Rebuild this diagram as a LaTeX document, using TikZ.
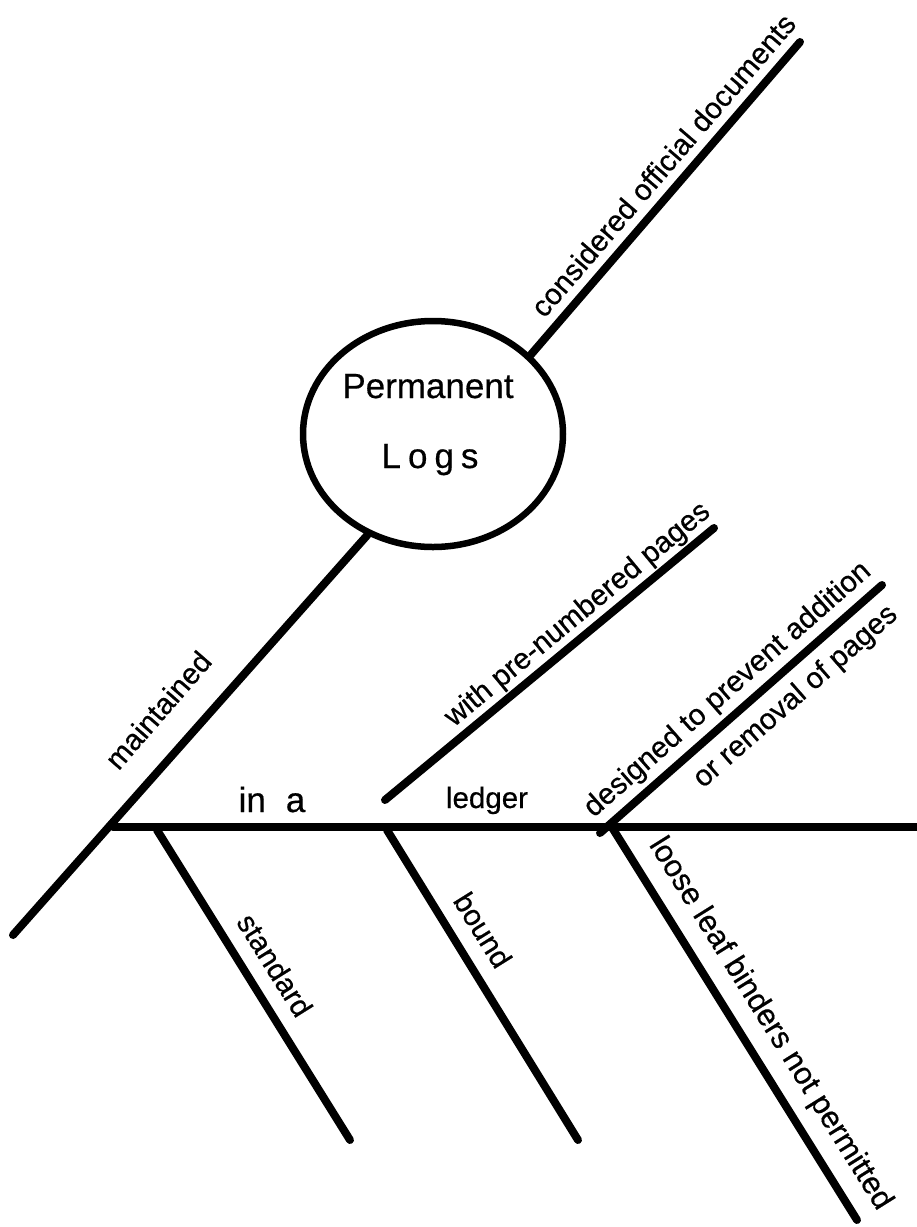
\documentclass[tikz,border=0pt]{standalone}
\usepackage{fontspec}
\setmainfont[BoldFont={Liberation Sans}, BoldFeatures={FakeBold=0.5}]{Liberation Sans}
\usetikzlibrary{shapes.geometric}
\tikzset{
  bone/.style={line width=8pt, line cap=round},
  lbl/.style={font=\fontsize{29.5}{34}\selectfont\bfseries, inner sep=0pt},
  big/.style={font=\fontsize{35}{40}\selectfont\bfseries, inner sep=0pt}
}
\begin{document}
\begin{tikzpicture}[x=1pt,y=-1pt]
\useasboundingbox (0,0) rectangle (917,1227);
\node[draw, ellipse, line width=6.5pt, minimum width=260pt, minimum height=226pt] (logs) at (433,434) {};
\node[big, anchor=base] (perm) at (428,398) {Permanent};
\node[big, anchor=base] (logstxt) at (430,468) {L\hspace{7pt}o\hspace{7pt}g\hspace{7pt}s};
\coordinate (m0) at (13,935);
\coordinate (root) at (113,827);
\coordinate (tail) at (925,827);
\coordinate (c1) at (800,42);
\coordinate (w0) at (385,800);
\coordinate (w1) at (714,528);
\coordinate (d0) at (600,833);
\coordinate (d1) at (882,585);
\coordinate (s0) at (157,830);
\coordinate (s1) at (350,1140);
\coordinate (b0) at (387,830);
\coordinate (b1) at (578,1140);
\coordinate (l0) at (613,829);
\coordinate (l1) at (857,1220);
\draw[bone] (m0) -- (logs.-123.4);
\draw[bone] (logs.39.5) -- (c1);
\draw[bone] (root) -- (tail);
\draw[bone] (w0) -- (w1);
\draw[bone] (d0) -- (d1);
\draw[bone] (s0) -- (s1);
\draw[bone] (b0) -- (b1);
\draw[bone] (l0) -- (l1);
\node[lbl, rotate=49.3] (cons) at (663,165) {considered official documents};
\node[lbl, rotate=49] (maint) at (158,710) {maintained};
\node[big, anchor=base] (ina) at (272,812) {in\hspace{20pt}a};
\node[lbl, anchor=base] (ledger) at (487,808) {ledger};
\node[lbl, rotate=39.6] (prenum) at (578,615) {with pre-numbered pages};
\node[lbl, rotate=41.3] (design) at (728,690) {designed to prevent addition};
\node[lbl, rotate=41.3] (removal) at (796,697) {or removal of pages};
\node[lbl, rotate=-58] (std) at (275,965) {standard};
\node[lbl, rotate=-58] (bnd) at (483,930) {bound};
\node[lbl, rotate=-58, font=\fontsize{31}{36}\selectfont\bfseries] (loose) at (770,1024) {loose leaf binders not permitted};
\end{tikzpicture}
\end{document}
